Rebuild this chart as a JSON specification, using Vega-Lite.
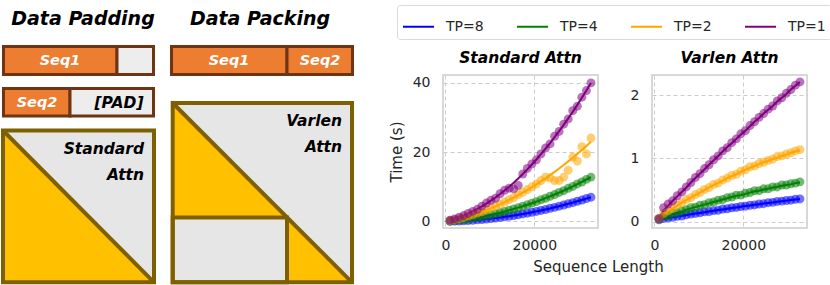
{
 "$schema": "https://vega.github.io/schema/vega-lite/v6.json",
 "padding": {"left": 0, "top": 4, "right": 5, "bottom": 0},
 "background": "white",
 "datasets": {
  "blocks": [
   {"kind":"attn","x":3,"x2":154,"y":129.5,"y2":281.3},
   {"kind":"attn","x":172.7,"x2":352,"y":102,"y2":281.3},
   {"kind":"frame","x":3,"x2":154,"y":129.5,"y2":281.3},
   {"kind":"frame","x":172.7,"x2":352,"y":102,"y2":281.3},
   {"kind":"frame","x":172.7,"x2":287,"y":216.4,"y2":281.3},
   {"kind":"token","x":3.5,"x2":117,"y":45.5,"y2":73.5},
   {"kind":"pad","x":117,"x2":153.5,"y":45.5,"y2":73.5},
   {"kind":"token","x":3.5,"x2":70,"y":87.5,"y2":115},
   {"kind":"pad","x":70,"x2":153.5,"y":87.5,"y2":115},
   {"kind":"token","x":171.5,"x2":287,"y":45.5,"y2":73.5},
   {"kind":"token","x":287,"x2":352.5,"y":45.5,"y2":73.5}
  ],
  "tris": [
   {"tri":"a","x":3,"y":129.5,"y2":281.3},{"tri":"a","x":154,"y":281.3,"y2":281.3},
   {"tri":"b","x":172.7,"y":102,"y2":216.4},{"tri":"b","x":287,"y":216.4,"y2":216.4},
   {"tri":"c","x":287,"y":216.4,"y2":281.3},{"tri":"c","x":352,"y":281.3,"y2":281.3}
  ],
  "diag": [
   {"x":3,"y":129.5,"x2":154,"y2":281.3},
   {"x":172.7,"y":102,"x2":352,"y2":281.3}
  ],
  "labels": [
   {"kind":"head","text":"Data Padding","x":83,"y":18},
   {"kind":"head","text":"Data Packing","x":260,"y":18},
   {"kind":"tok","text":"Seq1","x":60,"y":60},
   {"kind":"tok","text":"Seq2","x":37,"y":101.5},
   {"kind":"tok","text":"Seq1","x":229,"y":60},
   {"kind":"tok","text":"Seq2","x":320,"y":60},
   {"kind":"padt","text":"[PAD]","x":119,"y":101.5},
   {"kind":"attn","text":"Standard","x":144,"y":148},
   {"kind":"attn","text":"Attn","x":144,"y":174},
   {"kind":"attn","text":"Varlen","x":342,"y":120},
   {"kind":"attn","text":"Attn","x":342,"y":146}
  ],
  "perf": [
   {"p":"s","tp":"TP=8","n":1024,"t":0.05,"f":0.03},{"p":"s","tp":"TP=8","n":2048,"t":0.08,"f":0.07},{"p":"s","tp":"TP=8","n":3072,"t":0.12,"f":0.12},{"p":"s","tp":"TP=8","n":4096,"t":0.2,"f":0.19},{"p":"s","tp":"TP=8","n":5120,"t":0.27,"f":0.26},{"p":"s","tp":"TP=8","n":6144,"t":0.34,"f":0.35},{"p":"s","tp":"TP=8","n":7168,"t":0.46,"f":0.45},{"p":"s","tp":"TP=8","n":8192,"t":0.56,"f":0.57},{"p":"s","tp":"TP=8","n":9216,"t":0.71,"f":0.7},{"p":"s","tp":"TP=8","n":10240,"t":0.84,"f":0.83},{"p":"s","tp":"TP=8","n":11264,"t":0.98,"f":0.99},{"p":"s","tp":"TP=8","n":12288,"t":1.16,"f":1.15},{"p":"s","tp":"TP=8","n":13312,"t":1.33,"f":1.32},{"p":"s","tp":"TP=8","n":14336,"t":1.5,"f":1.51},{"p":"s","tp":"TP=8","n":15360,"t":1.72,"f":1.71},{"p":"s","tp":"TP=8","n":16384,"t":1.92,"f":1.93},{"p":"s","tp":"TP=8","n":17408,"t":2.16,"f":2.15},{"p":"s","tp":"TP=8","n":18432,"t":2.38,"f":2.39},{"p":"s","tp":"TP=8","n":19456,"t":2.66,"f":2.64},{"p":"s","tp":"TP=8","n":20480,"t":2.89,"f":2.9},{"p":"s","tp":"TP=8","n":21504,"t":3.18,"f":3.17},{"p":"s","tp":"TP=8","n":22528,"t":3.45,"f":3.46},{"p":"s","tp":"TP=8","n":23552,"t":3.78,"f":3.76},{"p":"s","tp":"TP=8","n":24576,"t":4.06,"f":4.07},{"p":"s","tp":"TP=8","n":25600,"t":4.41,"f":4.39},{"p":"s","tp":"TP=8","n":26624,"t":4.72,"f":4.73},{"p":"s","tp":"TP=8","n":27648,"t":5.1,"f":5.08},{"p":"s","tp":"TP=8","n":28672,"t":5.42,"f":5.44},{"p":"s","tp":"TP=8","n":29696,"t":5.83,"f":5.81},{"p":"s","tp":"TP=8","n":30720,"t":6.17,"f":6.19},{"p":"s","tp":"TP=8","n":31744,"t":6.62,"f":6.59},{"p":"s","tp":"TP=8","n":32768,"t":7.0,"f":7.0},
   {"p":"s","tp":"TP=4","n":1024,"t":0.12,"f":0.11},{"p":"s","tp":"TP=4","n":2048,"t":0.22,"f":0.23},{"p":"s","tp":"TP=4","n":3072,"t":0.39,"f":0.38},{"p":"s","tp":"TP=4","n":4096,"t":0.55,"f":0.54},{"p":"s","tp":"TP=4","n":5120,"t":0.71,"f":0.72},{"p":"s","tp":"TP=4","n":6144,"t":0.93,"f":0.92},{"p":"s","tp":"TP=4","n":7168,"t":1.15,"f":1.14},{"p":"s","tp":"TP=4","n":8192,"t":1.37,"f":1.38},{"p":"s","tp":"TP=4","n":9216,"t":1.66,"f":1.64},{"p":"s","tp":"TP=4","n":10240,"t":1.9,"f":1.92},{"p":"s","tp":"TP=4","n":11264,"t":2.23,"f":2.21},{"p":"s","tp":"TP=4","n":12288,"t":2.52,"f":2.53},{"p":"s","tp":"TP=4","n":13312,"t":2.88,"f":2.86},{"p":"s","tp":"TP=4","n":14336,"t":3.2,"f":3.21},{"p":"s","tp":"TP=4","n":15360,"t":3.6,"f":3.58},{"p":"s","tp":"TP=4","n":16384,"t":3.96,"f":3.98},{"p":"s","tp":"TP=4","n":17408,"t":4.4,"f":4.38},{"p":"s","tp":"TP=4","n":18432,"t":4.8,"f":4.81},{"p":"s","tp":"TP=4","n":19456,"t":5.29,"f":5.26},{"p":"s","tp":"TP=4","n":20480,"t":5.7,"f":5.73},{"p":"s","tp":"TP=4","n":21504,"t":6.25,"f":6.21},{"p":"s","tp":"TP=4","n":22528,"t":6.69,"f":6.72},{"p":"s","tp":"TP=4","n":23552,"t":7.28,"f":7.24},{"p":"s","tp":"TP=4","n":24576,"t":7.75,"f":7.78},{"p":"s","tp":"TP=4","n":25600,"t":8.38,"f":8.34},{"p":"s","tp":"TP=4","n":26624,"t":8.88,"f":8.92},{"p":"s","tp":"TP=4","n":27648,"t":9.56,"f":9.52},{"p":"s","tp":"TP=4","n":28672,"t":10.1,"f":10.14},{"p":"s","tp":"TP=4","n":29696,"t":10.83,"f":10.78},{"p":"s","tp":"TP=4","n":30720,"t":11.38,"f":11.43},{"p":"s","tp":"TP=4","n":31744,"t":12.15,"f":12.11},{"p":"s","tp":"TP=4","n":32768,"t":12.8,"f":12.8},
   {"p":"s","tp":"TP=2","n":1024,"t":0.25,"f":0.24},{"p":"s","tp":"TP=2","n":2048,"t":0.5,"f":0.52},{"p":"s","tp":"TP=2","n":3072,"t":0.85,"f":0.82},{"p":"s","tp":"TP=2","n":4096,"t":1.15,"f":1.16},{"p":"s","tp":"TP=2","n":5120,"t":1.55,"f":1.52},{"p":"s","tp":"TP=2","n":6144,"t":1.9,"f":1.92},{"p":"s","tp":"TP=2","n":7168,"t":2.4,"f":2.35},{"p":"s","tp":"TP=2","n":8192,"t":2.8,"f":2.81},{"p":"s","tp":"TP=2","n":9216,"t":3.35,"f":3.3},{"p":"s","tp":"TP=2","n":10240,"t":3.8,"f":3.81},{"p":"s","tp":"TP=2","n":11264,"t":4.4,"f":4.36},{"p":"s","tp":"TP=2","n":12288,"t":5.0,"f":4.95},{"p":"s","tp":"TP=2","n":13312,"t":5.6,"f":5.56},{"p":"s","tp":"TP=2","n":14336,"t":6.3,"f":6.2},{"p":"s","tp":"TP=2","n":15360,"t":6.9,"f":6.87},{"p":"s","tp":"TP=2","n":16384,"t":7.7,"f":7.58},{"p":"s","tp":"TP=2","n":17408,"t":8.4,"f":8.31},{"p":"s","tp":"TP=2","n":18432,"t":9.2,"f":9.07},{"p":"s","tp":"TP=2","n":19456,"t":10.0,"f":9.87},{"p":"s","tp":"TP=2","n":20480,"t":10.8,"f":10.7},{"p":"s","tp":"TP=2","n":21504,"t":11.8,"f":11.55},{"p":"s","tp":"TP=2","n":22528,"t":12.8,"f":12.44},{"p":"s","tp":"TP=2","n":23552,"t":12.6,"f":13.36},{"p":"s","tp":"TP=2","n":24576,"t":11.8,"f":14.31},{"p":"s","tp":"TP=2","n":25600,"t":11.8,"f":15.29},{"p":"s","tp":"TP=2","n":26624,"t":12.8,"f":16.3},{"p":"s","tp":"TP=2","n":27648,"t":14.8,"f":17.34},{"p":"s","tp":"TP=2","n":28672,"t":18.6,"f":18.41},{"p":"s","tp":"TP=2","n":29696,"t":17.4,"f":19.51},{"p":"s","tp":"TP=2","n":30720,"t":21.6,"f":20.64},{"p":"s","tp":"TP=2","n":31744,"t":19.5,"f":21.81},{"p":"s","tp":"TP=2","n":32768,"t":24.1,"f":23.0},
   {"p":"s","tp":"TP=1","n":1024,"t":0.35,"f":0.33},{"p":"s","tp":"TP=1","n":2048,"t":0.7,"f":0.72},{"p":"s","tp":"TP=1","n":3072,"t":1.2,"f":1.18},{"p":"s","tp":"TP=1","n":4096,"t":1.7,"f":1.69},{"p":"s","tp":"TP=1","n":5120,"t":2.3,"f":2.26},{"p":"s","tp":"TP=1","n":6144,"t":2.9,"f":2.88},{"p":"s","tp":"TP=1","n":7168,"t":3.5,"f":3.57},{"p":"s","tp":"TP=1","n":8192,"t":4.4,"f":4.32},{"p":"s","tp":"TP=1","n":9216,"t":5.3,"f":5.13},{"p":"s","tp":"TP=1","n":10240,"t":6.1,"f":5.99},{"p":"s","tp":"TP=1","n":11264,"t":6.7,"f":6.91},{"p":"s","tp":"TP=1","n":12288,"t":8.0,"f":7.9},{"p":"s","tp":"TP=1","n":13312,"t":9.0,"f":8.94},{"p":"s","tp":"TP=1","n":14336,"t":9.6,"f":10.04},{"p":"s","tp":"TP=1","n":15360,"t":9.4,"f":11.2},{"p":"s","tp":"TP=1","n":16384,"t":10.4,"f":12.43},{"p":"s","tp":"TP=1","n":17408,"t":13.7,"f":13.7},{"p":"s","tp":"TP=1","n":18432,"t":15.3,"f":15.04},{"p":"s","tp":"TP=1","n":19456,"t":16.6,"f":16.44},{"p":"s","tp":"TP=1","n":20480,"t":17.8,"f":17.9},{"p":"s","tp":"TP=1","n":21504,"t":19.5,"f":19.42},{"p":"s","tp":"TP=1","n":22528,"t":21.2,"f":20.99},{"p":"s","tp":"TP=1","n":23552,"t":22.4,"f":22.63},{"p":"s","tp":"TP=1","n":24576,"t":24.6,"f":24.32},{"p":"s","tp":"TP=1","n":25600,"t":26.0,"f":26.07},{"p":"s","tp":"TP=1","n":26624,"t":28.1,"f":27.88},{"p":"s","tp":"TP=1","n":27648,"t":29.6,"f":29.76},{"p":"s","tp":"TP=1","n":28672,"t":32.0,"f":31.69},{"p":"s","tp":"TP=1","n":29696,"t":33.3,"f":33.68},{"p":"s","tp":"TP=1","n":30720,"t":35.9,"f":35.72},{"p":"s","tp":"TP=1","n":31744,"t":37.8,"f":37.83},{"p":"s","tp":"TP=1","n":32768,"t":40.0,"f":40.0},
   {"p":"v","tp":"TP=8","n":1024,"t":0.03,"f":0.03},{"p":"v","tp":"TP=8","n":2048,"t":0.05,"f":0.045},{"p":"v","tp":"TP=8","n":3072,"t":0.06,"f":0.057},{"p":"v","tp":"TP=8","n":4096,"t":0.07,"f":0.069},{"p":"v","tp":"TP=8","n":5120,"t":0.085,"f":0.081},{"p":"v","tp":"TP=8","n":6144,"t":0.09,"f":0.093},{"p":"v","tp":"TP=8","n":7168,"t":0.11,"f":0.105},{"p":"v","tp":"TP=8","n":8192,"t":0.12,"f":0.116},{"p":"v","tp":"TP=8","n":9216,"t":0.13,"f":0.128},{"p":"v","tp":"TP=8","n":10240,"t":0.14,"f":0.139},{"p":"v","tp":"TP=8","n":11264,"t":0.155,"f":0.15},{"p":"v","tp":"TP=8","n":12288,"t":0.16,"f":0.162},{"p":"v","tp":"TP=8","n":13312,"t":0.175,"f":0.173},{"p":"v","tp":"TP=8","n":14336,"t":0.18,"f":0.184},{"p":"v","tp":"TP=8","n":15360,"t":0.2,"f":0.194},{"p":"v","tp":"TP=8","n":16384,"t":0.205,"f":0.205},{"p":"v","tp":"TP=8","n":17408,"t":0.22,"f":0.216},{"p":"v","tp":"TP=8","n":18432,"t":0.225,"f":0.226},{"p":"v","tp":"TP=8","n":19456,"t":0.24,"f":0.236},{"p":"v","tp":"TP=8","n":20480,"t":0.245,"f":0.247},{"p":"v","tp":"TP=8","n":21504,"t":0.26,"f":0.257},{"p":"v","tp":"TP=8","n":22528,"t":0.265,"f":0.267},{"p":"v","tp":"TP=8","n":23552,"t":0.28,"f":0.277},{"p":"v","tp":"TP=8","n":24576,"t":0.285,"f":0.286},{"p":"v","tp":"TP=8","n":25600,"t":0.3,"f":0.296},{"p":"v","tp":"TP=8","n":26624,"t":0.305,"f":0.305},{"p":"v","tp":"TP=8","n":27648,"t":0.32,"f":0.315},{"p":"v","tp":"TP=8","n":28672,"t":0.325,"f":0.324},{"p":"v","tp":"TP=8","n":29696,"t":0.335,"f":0.333},{"p":"v","tp":"TP=8","n":30720,"t":0.34,"f":0.342},{"p":"v","tp":"TP=8","n":31744,"t":0.355,"f":0.351},{"p":"v","tp":"TP=8","n":32768,"t":0.36,"f":0.36},
   {"p":"v","tp":"TP=4","n":1024,"t":0.04,"f":0.04},{"p":"v","tp":"TP=4","n":2048,"t":0.08,"f":0.07},{"p":"v","tp":"TP=4","n":3072,"t":0.09,"f":0.09},{"p":"v","tp":"TP=4","n":4096,"t":0.13,"f":0.12},{"p":"v","tp":"TP=4","n":5120,"t":0.14,"f":0.14},{"p":"v","tp":"TP=4","n":6144,"t":0.17,"f":0.16},{"p":"v","tp":"TP=4","n":7168,"t":0.19,"f":0.19},{"p":"v","tp":"TP=4","n":8192,"t":0.22,"f":0.21},{"p":"v","tp":"TP=4","n":9216,"t":0.23,"f":0.23},{"p":"v","tp":"TP=4","n":10240,"t":0.26,"f":0.25},{"p":"v","tp":"TP=4","n":11264,"t":0.27,"f":0.27},{"p":"v","tp":"TP=4","n":12288,"t":0.3,"f":0.29},{"p":"v","tp":"TP=4","n":13312,"t":0.31,"f":0.31},{"p":"v","tp":"TP=4","n":14336,"t":0.34,"f":0.33},{"p":"v","tp":"TP=4","n":15360,"t":0.35,"f":0.35},{"p":"v","tp":"TP=4","n":16384,"t":0.38,"f":0.37},{"p":"v","tp":"TP=4","n":17408,"t":0.39,"f":0.39},{"p":"v","tp":"TP=4","n":18432,"t":0.42,"f":0.41},{"p":"v","tp":"TP=4","n":19456,"t":0.42,"f":0.42},{"p":"v","tp":"TP=4","n":20480,"t":0.45,"f":0.44},{"p":"v","tp":"TP=4","n":21504,"t":0.46,"f":0.46},{"p":"v","tp":"TP=4","n":22528,"t":0.49,"f":0.48},{"p":"v","tp":"TP=4","n":23552,"t":0.49,"f":0.49},{"p":"v","tp":"TP=4","n":24576,"t":0.52,"f":0.51},{"p":"v","tp":"TP=4","n":25600,"t":0.52,"f":0.52},{"p":"v","tp":"TP=4","n":26624,"t":0.55,"f":0.54},{"p":"v","tp":"TP=4","n":27648,"t":0.55,"f":0.55},{"p":"v","tp":"TP=4","n":28672,"t":0.58,"f":0.57},{"p":"v","tp":"TP=4","n":29696,"t":0.58,"f":0.58},{"p":"v","tp":"TP=4","n":30720,"t":0.6,"f":0.59},{"p":"v","tp":"TP=4","n":31744,"t":0.61,"f":0.61},{"p":"v","tp":"TP=4","n":32768,"t":0.63,"f":0.62},
   {"p":"v","tp":"TP=2","n":1024,"t":0.05,"f":0.05},{"p":"v","tp":"TP=2","n":2048,"t":0.13,"f":0.12},{"p":"v","tp":"TP=2","n":3072,"t":0.17,"f":0.16},{"p":"v","tp":"TP=2","n":4096,"t":0.21,"f":0.21},{"p":"v","tp":"TP=2","n":5120,"t":0.26,"f":0.25},{"p":"v","tp":"TP=2","n":6144,"t":0.3,"f":0.3},{"p":"v","tp":"TP=2","n":7168,"t":0.35,"f":0.34},{"p":"v","tp":"TP=2","n":8192,"t":0.38,"f":0.38},{"p":"v","tp":"TP=2","n":9216,"t":0.43,"f":0.42},{"p":"v","tp":"TP=2","n":10240,"t":0.46,"f":0.46},{"p":"v","tp":"TP=2","n":11264,"t":0.51,"f":0.5},{"p":"v","tp":"TP=2","n":12288,"t":0.54,"f":0.54},{"p":"v","tp":"TP=2","n":13312,"t":0.59,"f":0.58},{"p":"v","tp":"TP=2","n":14336,"t":0.61,"f":0.61},{"p":"v","tp":"TP=2","n":15360,"t":0.66,"f":0.65},{"p":"v","tp":"TP=2","n":16384,"t":0.69,"f":0.69},{"p":"v","tp":"TP=2","n":17408,"t":0.73,"f":0.72},{"p":"v","tp":"TP=2","n":18432,"t":0.75,"f":0.75},{"p":"v","tp":"TP=2","n":19456,"t":0.8,"f":0.79},{"p":"v","tp":"TP=2","n":20480,"t":0.82,"f":0.82},{"p":"v","tp":"TP=2","n":21504,"t":0.87,"f":0.85},{"p":"v","tp":"TP=2","n":22528,"t":0.88,"f":0.88},{"p":"v","tp":"TP=2","n":23552,"t":0.92,"f":0.91},{"p":"v","tp":"TP=2","n":24576,"t":0.94,"f":0.94},{"p":"v","tp":"TP=2","n":25600,"t":0.97,"f":0.96},{"p":"v","tp":"TP=2","n":26624,"t":0.99,"f":0.99},{"p":"v","tp":"TP=2","n":27648,"t":1.03,"f":1.01},{"p":"v","tp":"TP=2","n":28672,"t":1.04,"f":1.04},{"p":"v","tp":"TP=2","n":29696,"t":1.07,"f":1.06},{"p":"v","tp":"TP=2","n":30720,"t":1.09,"f":1.09},{"p":"v","tp":"TP=2","n":31744,"t":1.12,"f":1.11},{"p":"v","tp":"TP=2","n":32768,"t":1.14,"f":1.13},
   {"p":"v","tp":"TP=1","n":1024,"t":0.05,"f":0.05},{"p":"v","tp":"TP=1","n":2048,"t":0.22,"f":0.18},{"p":"v","tp":"TP=1","n":3072,"t":0.28,"f":0.25},{"p":"v","tp":"TP=1","n":4096,"t":0.33,"f":0.33},{"p":"v","tp":"TP=1","n":5120,"t":0.41,"f":0.4},{"p":"v","tp":"TP=1","n":6144,"t":0.47,"f":0.47},{"p":"v","tp":"TP=1","n":7168,"t":0.55,"f":0.54},{"p":"v","tp":"TP=1","n":8192,"t":0.62,"f":0.62},{"p":"v","tp":"TP=1","n":9216,"t":0.7,"f":0.69},{"p":"v","tp":"TP=1","n":10240,"t":0.76,"f":0.76},{"p":"v","tp":"TP=1","n":11264,"t":0.84,"f":0.83},{"p":"v","tp":"TP=1","n":12288,"t":0.9,"f":0.9},{"p":"v","tp":"TP=1","n":13312,"t":0.98,"f":0.97},{"p":"v","tp":"TP=1","n":14336,"t":1.04,"f":1.04},{"p":"v","tp":"TP=1","n":15360,"t":1.12,"f":1.11},{"p":"v","tp":"TP=1","n":16384,"t":1.17,"f":1.18},{"p":"v","tp":"TP=1","n":17408,"t":1.25,"f":1.24},{"p":"v","tp":"TP=1","n":18432,"t":1.31,"f":1.31},{"p":"v","tp":"TP=1","n":19456,"t":1.39,"f":1.38},{"p":"v","tp":"TP=1","n":20480,"t":1.44,"f":1.44},{"p":"v","tp":"TP=1","n":21504,"t":1.52,"f":1.51},{"p":"v","tp":"TP=1","n":22528,"t":1.58,"f":1.58},{"p":"v","tp":"TP=1","n":23552,"t":1.65,"f":1.64},{"p":"v","tp":"TP=1","n":24576,"t":1.71,"f":1.71},{"p":"v","tp":"TP=1","n":25600,"t":1.78,"f":1.77},{"p":"v","tp":"TP=1","n":26624,"t":1.83,"f":1.83},{"p":"v","tp":"TP=1","n":27648,"t":1.91,"f":1.9},{"p":"v","tp":"TP=1","n":28672,"t":1.96,"f":1.96},{"p":"v","tp":"TP=1","n":29696,"t":2.03,"f":2.02},{"p":"v","tp":"TP=1","n":30720,"t":2.09,"f":2.09},{"p":"v","tp":"TP=1","n":31744,"t":2.16,"f":2.15},{"p":"v","tp":"TP=1","n":32768,"t":2.21,"f":2.21}
  ]
 },
 "hconcat": [
  {
   "width": 360, "height": 153,
   "view": {"stroke": null},
   "layer": [
    {"data": {"name": "blocks"}, "transform": [{"filter": "datum.kind === 'attn'"}],
     "mark": {"type": "rect", "fill": "#e7e6e6"},
     "encoding": {
      "x": {"field": "x", "type": "quantitative", "scale": {"domain": [0, 360], "nice": false, "zero": false}, "axis": null},
      "x2": {"field": "x2"},
      "y": {"field": "y", "type": "quantitative", "scale": {"domain": [74, 227], "nice": false, "zero": false, "reverse": true}, "axis": null},
      "y2": {"field": "y2"}}},
    {"data": {"name": "tris"},
     "mark": {"type": "area", "fill": "#ffc000"},
     "encoding": {
      "x": {"field": "x", "type": "quantitative", "scale": {"domain": [0, 360], "nice": false, "zero": false}, "axis": null},
      "y": {"field": "y", "type": "quantitative", "stack": null, "scale": {"domain": [74, 227], "nice": false, "zero": false, "reverse": true}, "axis": null},
      "y2": {"field": "y2"},
      "detail": {"field": "tri"}}},
    {"data": {"name": "diag"},
     "mark": {"type": "rule", "stroke": "#7f6000", "strokeWidth": 4},
     "encoding": {
      "x": {"field": "x", "type": "quantitative", "scale": {"domain": [0, 360], "nice": false, "zero": false}, "axis": null},
      "x2": {"field": "x2"},
      "y": {"field": "y", "type": "quantitative", "scale": {"domain": [74, 227], "nice": false, "zero": false, "reverse": true}, "axis": null},
      "y2": {"field": "y2"}}},
    {"data": {"name": "blocks"}, "transform": [{"filter": "datum.kind === 'frame'"}],
     "mark": {"type": "rect", "filled": false, "stroke": "#7f6000", "strokeWidth": 4},
     "encoding": {
      "x": {"field": "x", "type": "quantitative", "scale": {"domain": [0, 360], "nice": false, "zero": false}, "axis": null},
      "x2": {"field": "x2"},
      "y": {"field": "y", "type": "quantitative", "scale": {"domain": [74, 227], "nice": false, "zero": false, "reverse": true}, "axis": null},
      "y2": {"field": "y2"}}},
    {"data": {"name": "blocks"}, "transform": [{"filter": "datum.kind === 'token'"}],
     "mark": {"type": "rect", "fill": "#ed7d31", "stroke": "#6e3414", "strokeWidth": 3},
     "encoding": {
      "x": {"field": "x", "type": "quantitative", "scale": {"domain": [0, 360], "nice": false, "zero": false}, "axis": null},
      "x2": {"field": "x2"},
      "y": {"field": "y", "type": "quantitative", "scale": {"domain": [74, 227], "nice": false, "zero": false, "reverse": true}, "axis": null},
      "y2": {"field": "y2"}}},
    {"data": {"name": "blocks"}, "transform": [{"filter": "datum.kind === 'pad'"}],
     "mark": {"type": "rect", "fill": "#ededed", "stroke": "#6e3414", "strokeWidth": 3},
     "encoding": {
      "x": {"field": "x", "type": "quantitative", "scale": {"domain": [0, 360], "nice": false, "zero": false}, "axis": null},
      "x2": {"field": "x2"},
      "y": {"field": "y", "type": "quantitative", "scale": {"domain": [74, 227], "nice": false, "zero": false, "reverse": true}, "axis": null},
      "y2": {"field": "y2"}}},
    {"data": {"name": "labels"}, "transform": [{"filter": "datum.kind === 'head'"}],
     "mark": {"type": "text", "font": "DejaVu Sans", "fontWeight": "bold", "fontStyle": "italic", "fontSize": 19, "color": "#000000", "align": "center", "baseline": "middle"},
     "encoding": {
      "x": {"field": "x", "type": "quantitative", "scale": {"domain": [0, 360], "nice": false, "zero": false}, "axis": null},
      "y": {"field": "y", "type": "quantitative", "scale": {"domain": [74, 227], "nice": false, "zero": false, "reverse": true}, "axis": null},
      "text": {"field": "text"}}},
    {"data": {"name": "labels"}, "transform": [{"filter": "datum.kind === 'tok'"}],
     "mark": {"type": "text", "font": "DejaVu Sans", "fontWeight": "bold", "fontStyle": "italic", "fontSize": 14.5, "color": "#ffffff", "align": "center", "baseline": "middle"},
     "encoding": {
      "x": {"field": "x", "type": "quantitative", "scale": {"domain": [0, 360], "nice": false, "zero": false}, "axis": null},
      "y": {"field": "y", "type": "quantitative", "scale": {"domain": [74, 227], "nice": false, "zero": false, "reverse": true}, "axis": null},
      "text": {"field": "text"}}},
    {"data": {"name": "labels"}, "transform": [{"filter": "datum.kind === 'padt'"}],
     "mark": {"type": "text", "font": "DejaVu Sans", "fontWeight": "bold", "fontStyle": "italic", "fontSize": 15.5, "color": "#000000", "align": "center", "baseline": "middle"},
     "encoding": {
      "x": {"field": "x", "type": "quantitative", "scale": {"domain": [0, 360], "nice": false, "zero": false}, "axis": null},
      "y": {"field": "y", "type": "quantitative", "scale": {"domain": [74, 227], "nice": false, "zero": false, "reverse": true}, "axis": null},
      "text": {"field": "text"}}},
    {"data": {"name": "labels"}, "transform": [{"filter": "datum.kind === 'attn'"}],
     "mark": {"type": "text", "font": "DejaVu Sans", "fontWeight": "bold", "fontStyle": "italic", "fontSize": 15.5, "color": "#000000", "align": "right", "baseline": "middle"},
     "encoding": {
      "x": {"field": "x", "type": "quantitative", "scale": {"domain": [0, 360], "nice": false, "zero": false}, "axis": null},
      "y": {"field": "y", "type": "quantitative", "scale": {"domain": [74, 227], "nice": false, "zero": false, "reverse": true}, "axis": null},
      "text": {"field": "text"}}}
   ]
  },
  {
   "spacing": 54,
   "bounds": "flush",
   "hconcat": [
    {
     "width": 155, "height": 153,
     "title": {"text": "Standard Attn"},
     "data": {"name": "perf"},
     "transform": [{"filter": "datum.p === 's'"}],
     "encoding": {
      "x": {"field": "n", "type": "quantitative", "scale": {"domain": [-563, 34355], "nice": false, "zero": false},
            "axis": {"values": [0, 20000], "format": "d", "title": "Sequence Length", "titleX": 155, "titleAlign": "center", "titlePadding": 7}}
     },
     "layer": [
      {"mark": {"type": "line", "strokeWidth": 2},
       "encoding": {
        "y": {"field": "f", "type": "quantitative", "scale": {"domain": [-1.9, 42.3], "nice": false, "zero": false}, "axis": {"values": [0, 20, 40], "title": "Time (s)", "titlePadding": 8, "labelPadding": 13}},
        "color": {"field": "tp", "type": "nominal", "sort": null,
                  "scale": {"domain": ["TP=8", "TP=4", "TP=2", "TP=1"], "range": ["#0000ff", "#008000", "#ffa500", "#800080"]},
                  "legend": {"orient": "none", "legendX": 397, "legendY": -70, "direction": "horizontal", "columns": 4, "title": null, "symbolType": "stroke", "symbolSize": 961, "symbolStrokeWidth": 2, "labelOffset": 11, "columnPadding": 29, "padding": 5, "strokeColor": "#d9d9d9", "cornerRadius": 3, "fillColor": "#ffffff", "labelFont": "DejaVu Sans", "labelFontSize": 14, "labelColor": "#262626"}}}},
      {"mark": {"type": "point", "filled": true, "opacity": 0.55, "size": 80, "strokeWidth": 0},
       "encoding": {
        "y": {"field": "t", "type": "quantitative", "scale": {"domain": [-1.9, 42.3], "nice": false, "zero": false}, "axis": {"values": [0, 20, 40], "title": "Time (s)", "titlePadding": 8, "labelPadding": 13}},
        "fill": {"field": "tp", "type": "nominal", "scale": {"domain": ["TP=8", "TP=4", "TP=2", "TP=1"], "range": ["#0000ff", "#008000", "#ffa500", "#800080"]}, "legend": null}}}
     ]
    },
    {
     "width": 155, "height": 153,
     "title": {"text": "Varlen Attn"},
     "data": {"name": "perf"},
     "transform": [{"filter": "datum.p === 'v'"}],
     "encoding": {
      "x": {"field": "n", "type": "quantitative", "scale": {"domain": [-563, 34355], "nice": false, "zero": false},
            "axis": {"values": [0, 20000], "format": "d", "title": null}}
     },
     "layer": [
      {"mark": {"type": "line", "strokeWidth": 2},
       "encoding": {
        "y": {"field": "f", "type": "quantitative", "scale": {"domain": [-0.1, 2.32], "nice": false, "zero": false}, "axis": {"values": [0, 1, 2], "title": null, "labelPadding": 13}},
        "color": {"field": "tp", "type": "nominal", "sort": null,
                  "scale": {"domain": ["TP=8", "TP=4", "TP=2", "TP=1"], "range": ["#0000ff", "#008000", "#ffa500", "#800080"]},
                  "legend": {"orient": "none", "legendX": 397, "legendY": -70, "direction": "horizontal", "columns": 4, "title": null, "symbolType": "stroke", "symbolSize": 961, "symbolStrokeWidth": 2, "labelOffset": 11, "columnPadding": 29, "padding": 5, "strokeColor": "#d9d9d9", "cornerRadius": 3, "fillColor": "#ffffff", "labelFont": "DejaVu Sans", "labelFontSize": 14, "labelColor": "#262626"}}}},
      {"mark": {"type": "point", "filled": true, "opacity": 0.55, "size": 80, "strokeWidth": 0},
       "encoding": {
        "y": {"field": "t", "type": "quantitative", "scale": {"domain": [-0.1, 2.32], "nice": false, "zero": false}, "axis": {"values": [0, 1, 2], "title": null, "labelPadding": 13}},
        "fill": {"field": "tp", "type": "nominal", "scale": {"domain": ["TP=8", "TP=4", "TP=2", "TP=1"], "range": ["#0000ff", "#008000", "#ffa500", "#800080"]}, "legend": null}}}
     ]
    }
   ]
  }
 ],
 "spacing": 83,
 "bounds": "flush",
 "config": {
  "view": {"stroke": "#cccccc", "strokeWidth": 1.5},
  "axis": {"grid": true, "gridDash": [4, 3], "gridColor": "#cccccc", "gridWidth": 1, "ticks": false, "domain": false,
           "labelFont": "DejaVu Sans", "labelFontSize": 14, "labelColor": "#262626", "labelPadding": 10,
           "titleFont": "DejaVu Sans", "titleFontSize": 15, "titleFontWeight": "normal", "titleColor": "#262626"},
  "title": {"font": "DejaVu Sans", "fontSize": 15.5, "fontWeight": "bold", "fontStyle": "italic", "color": "#000000", "offset": 9}
 }
}
